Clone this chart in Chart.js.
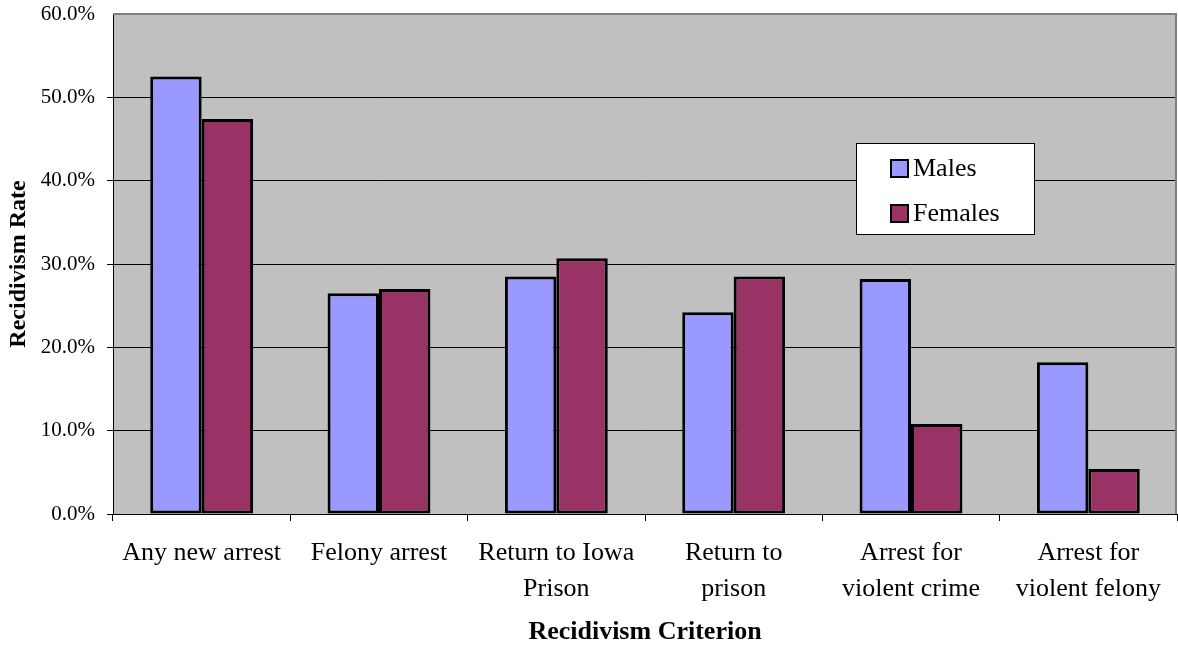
<!DOCTYPE html>
<html>
<head>
<meta charset="utf-8">
<title>Recidivism Rate by Criterion</title>
<script src="https://cdn.jsdelivr.net/npm/chart.js@4/dist/chart.umd.min.js"></script>
<style>
  html, body { margin: 0; padding: 0; background: #ffffff; }
  #wrap { width: 1178px; height: 650px; }
</style>
</head>
<body>
<div id="wrap"><canvas id="chart" width="1178" height="650"></canvas></div>
<script>
// Recidivism criteria (x categories), split over two lines where needed
const categories = [
  ['Any new arrest'],
  ['Felony arrest'],
  ['Return to Iowa', 'Prison'],
  ['Return to', 'prison'],
  ['Arrest for', 'violent crime'],
  ['Arrest for', 'violent felony']
];

// Recidivism rates in percent
const males   = [52.5, 26.5, 28.5, 24.2, 28.2, 18.2];
const females = [47.4, 27.0, 30.7, 28.5, 10.8, 5.4];

const seriesNames = ['Males', 'Females'];
const yTicks = [0, 10, 20, 30, 40, 50, 60];

const SERIF = '"Liberation Serif", "Times New Roman", serif';

// Grey plot background with a soft grey frame on the top and right edges
const plotBackground = {
  id: 'plotBackground',
  beforeDraw(chart) {
    const { ctx, chartArea: a } = chart;
    ctx.save();
    ctx.fillStyle = '#C0C0C0';
    ctx.fillRect(a.left, a.top, a.right - a.left, a.bottom - a.top);
    ctx.restore();
  },
  afterDatasetsDraw(chart) {
    const { ctx, chartArea: a } = chart;
    ctx.save();
    ctx.strokeStyle = '#808080';
    ctx.lineWidth = 2;
    ctx.beginPath();
    ctx.moveTo(a.left, a.top);
    ctx.lineTo(a.right - 1, a.top);
    ctx.lineTo(a.right - 1, a.bottom);
    ctx.stroke();
    ctx.restore();
  }
};

// Boxed legend sitting inside the plot area
const boxedLegend = {
  id: 'boxedLegend',
  afterDraw(chart) {
    const { ctx } = chart;
    const x = 856, y = 143, w = 178, h = 91;
    ctx.save();
    ctx.fillStyle = '#ffffff';
    ctx.fillRect(x, y, w, h);
    ctx.strokeStyle = '#000000';
    ctx.lineWidth = 1;
    ctx.strokeRect(x + 0.5, y + 0.5, w, h);
    ctx.font = '26px ' + SERIF;
    ctx.textBaseline = 'middle';
    ctx.textAlign = 'left';
    chart.data.datasets.forEach((ds, i) => {
      const cy = y + 25 + i * 45;
      ctx.fillStyle = ds.backgroundColor;
      ctx.fillRect(x + 35, cy - 8, 17, 17);
      ctx.strokeStyle = '#000000';
      ctx.lineWidth = 2;
      ctx.strokeRect(x + 35, cy - 8, 17, 17);
      ctx.fillStyle = '#000000';
      ctx.fillText(ds.label, x + 57, cy + 1);
    });
    ctx.restore();
  }
};

const barStyle = {
  borderColor: '#000000',
  borderWidth: 3,
  borderSkipped: false,
  barPercentage: 1.0,
  categoryPercentage: 0.58
};

new Chart(document.getElementById('chart'), {
  type: 'bar',
  data: {
    labels: categories,
    datasets: [
      Object.assign({ label: seriesNames[0], data: males, backgroundColor: '#9999FF' }, barStyle),
      Object.assign({ label: seriesNames[1], data: females, backgroundColor: '#993366' }, barStyle)
    ]
  },
  options: {
    responsive: false,
    animation: false,
    devicePixelRatio: 1,
    layout: { padding: { left: 0, right: 1, top: 14, bottom: 0 } },
    plugins: {
      legend: { display: false },
      tooltip: { enabled: false }
    },
    scales: {
      x: {
        grid: {
          display: true,
          offset: true,
          drawOnChartArea: false,
          drawTicks: true,
          tickLength: 7,
          color: '#000000'
        },
        border: { display: true, color: '#000000', width: 1 },
        ticks: {
          color: '#000000',
          font: { family: SERIF, size: 26, lineHeight: 1.38 },
          maxRotation: 0,
          autoSkip: false,
          padding: 14
        },
        title: {
          display: true,
          text: 'Recidivism Criterion',
          color: '#000000',
          font: { family: SERIF, size: 26, weight: 'bold' },
          padding: { top: 0, bottom: 2 }
        },
        afterFit(scale) {
          scale.height = 136;
          scale.paddingLeft = 0;
          scale.paddingRight = 0;
        }
      },
      y: {
        min: 0,
        max: 60,
        afterBuildTicks(scale) { scale.ticks = yTicks.map(v => ({ value: v })); },
        grid: {
          color: ctx => (ctx.tick && ctx.tick.value === 60) ? 'rgba(0,0,0,0)' : '#000000',
          lineWidth: 1,
          drawTicks: true,
          tickLength: 6
        },
        border: { display: true, color: '#000000', width: 1 },
        ticks: {
          color: '#000000',
          font: { family: SERIF, size: 21 },
          padding: 12,
          callback: v => v.toFixed(1) + '%'
        },
        title: {
          display: true,
          text: 'Recidivism Rate',
          color: '#000000',
          font: { family: SERIF, size: 24, weight: 'bold' },
          padding: { top: 4, bottom: 0 }
        },
        afterFit(scale) {
          scale.width = 113;
          scale.paddingTop = 0;
          scale.paddingBottom = 0;
        }
      }
    }
  },
  plugins: [plotBackground, boxedLegend]
});
</script>
</body>
</html>
